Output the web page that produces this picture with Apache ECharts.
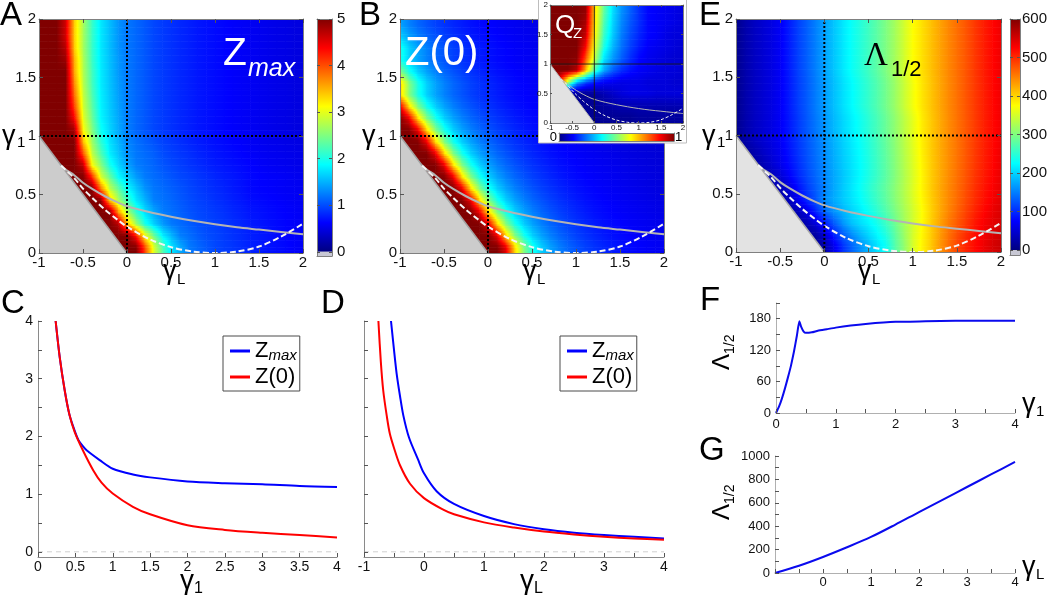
<!DOCTYPE html>
<html>
<head>
<meta charset="utf-8">
<title>Zmax, Z(0), QZ and Lambda maps</title>
<script src="https://cdn.jsdelivr.net/npm/echarts@6.0.0/dist/echarts.min.js"></script>
<style>
html,body{margin:0;padding:0;background:#ffffff;}
#chart{width:1050px;height:599px;}
</style>
</head>
<body>
<div id="chart"></div>
<script>
// ===================== DATA =====================
// heat-map grid: node positions along gamma_L and row centres along gamma_1
const gammaLNodes = [-1,-0.9,-0.8,-0.7,-0.6,-0.5,-0.4,-0.3,-0.2,-0.1,0,0.1,0.2,0.3,0.4,0.5,0.6,0.7,0.8,0.9,1,1.1,1.2,1.3,1.4,1.5,1.6,1.7,1.8,1.9,2];
const gamma1Rows = [0.05,0.15,0.25,0.35,0.45,0.55,0.65,0.75,0.85,0.95,1.05,1.15,1.25,1.35,1.45,1.55,1.65,1.75,1.85,1.95];

// Panel A: Zmax (rows bottom -> top, one value per gamma_L node)
const zmaxGrid = [
 [5,5,5,5,5,5,5,5,5,5,5,5,4.06,2.99,2.29,1.76,1.48,1.23,1.14,1.05,0.97,0.92,0.88,0.83,0.78,0.75,0.71,0.68,0.65,0.61,0.58],
 [5,5,5,5,5,5,5,5,5,5,5,4.3,3.13,2.43,1.82,1.53,1.25,1.17,1.08,1.0,0.96,0.91,0.86,0.82,0.77,0.74,0.71,0.67,0.64,0.61,0.58],
 [5,5,5,5,5,5,5,5,5,4.75,3.5,2.66,2.0,1.66,1.39,1.22,1.15,1.08,1.01,0.97,0.93,0.89,0.84,0.8,0.75,0.72,0.69,0.66,0.63,0.6,0.57],
 [5,5,5,5,5,5,5,5,5,3.66,2.75,2.13,1.72,1.46,1.24,1.17,1.1,1.03,0.98,0.94,0.9,0.86,0.81,0.77,0.72,0.7,0.67,0.65,0.62,0.6,0.57],
 [5,5,5,5,5,5,5,5,3.44,2.71,2.19,1.77,1.51,1.25,1.19,1.13,1.06,1.0,0.95,0.91,0.86,0.82,0.77,0.73,0.68,0.66,0.64,0.62,0.6,0.58,0.56],
 [5,5,5,5,5,5,5,3.81,2.84,2.36,1.88,1.61,1.35,1.21,1.15,1.09,1.03,0.97,0.92,0.87,0.83,0.79,0.74,0.7,0.65,0.63,0.62,0.6,0.58,0.57,0.55],
 [5,5,5,5,5,5,4.22,2.96,2.42,1.88,1.64,1.4,1.23,1.16,1.1,1.04,0.98,0.94,0.89,0.85,0.8,0.76,0.73,0.69,0.65,0.63,0.61,0.6,0.58,0.56,0.54],
 [5,5,5,5,5,4.69,3.13,2.56,1.99,1.68,1.44,1.24,1.18,1.12,1.04,0.98,0.93,0.88,0.84,0.79,0.75,0.72,0.69,0.66,0.63,0.6,0.58,0.56,0.55,0.53,0.51],
 [5,5,5,5,5,3.98,2.84,2.27,1.81,1.58,1.34,1.21,1.15,1.09,1.0,0.94,0.89,0.85,0.8,0.76,0.72,0.69,0.66,0.63,0.6,0.58,0.56,0.55,0.53,0.52,0.5],
 [5,5,5,5,5,3.47,2.67,2.1,1.74,1.52,1.29,1.18,1.1,1.03,0.95,0.9,0.85,0.8,0.76,0.72,0.69,0.66,0.63,0.61,0.58,0.56,0.54,0.53,0.51,0.5,0.48],
 [5,5,5,5,4.83,3.13,2.53,1.93,1.68,1.46,1.25,1.13,1.05,0.97,0.91,0.86,0.81,0.77,0.73,0.7,0.67,0.64,0.61,0.59,0.57,0.55,0.53,0.51,0.5,0.48,0.47],
 [5,5,5,5,4.38,3.0,2.41,1.85,1.64,1.44,1.24,1.13,1.05,0.97,0.91,0.86,0.81,0.77,0.73,0.7,0.67,0.64,0.61,0.59,0.57,0.55,0.53,0.51,0.5,0.48,0.47],
 [5,5,5,5,4.06,2.9,2.34,1.83,1.62,1.42,1.24,1.13,1.05,0.97,0.91,0.86,0.81,0.77,0.73,0.7,0.67,0.64,0.61,0.59,0.57,0.55,0.53,0.51,0.5,0.48,0.47],
 [5,5,5,5,3.85,2.84,2.27,1.81,1.6,1.4,1.23,1.13,1.05,0.97,0.91,0.86,0.81,0.77,0.73,0.7,0.67,0.64,0.61,0.59,0.57,0.55,0.53,0.51,0.5,0.48,0.47],
 [5,5,5,5,3.7,2.78,2.21,1.79,1.59,1.39,1.23,1.13,1.05,0.97,0.91,0.86,0.81,0.77,0.73,0.7,0.67,0.64,0.61,0.59,0.57,0.55,0.53,0.51,0.5,0.48,0.47],
 [5,5,5,5,3.56,2.75,2.2,1.79,1.58,1.37,1.22,1.13,1.05,0.97,0.91,0.86,0.81,0.77,0.73,0.7,0.67,0.64,0.61,0.59,0.57,0.55,0.53,0.51,0.5,0.48,0.47],
 [5,5,5,4.87,3.53,2.73,2.16,1.78,1.57,1.37,1.22,1.13,1.05,0.97,0.91,0.86,0.81,0.77,0.73,0.7,0.67,0.64,0.61,0.59,0.57,0.55,0.53,0.51,0.5,0.48,0.47],
 [5,5,5,4.73,3.39,2.69,2.15,1.77,1.56,1.35,1.21,1.13,1.05,0.97,0.91,0.86,0.81,0.77,0.73,0.7,0.67,0.64,0.61,0.59,0.57,0.55,0.53,0.51,0.5,0.48,0.47],
 [5,5,5,4.6,3.37,2.69,2.15,1.77,1.56,1.35,1.21,1.13,1.05,0.97,0.91,0.86,0.81,0.77,0.73,0.7,0.67,0.64,0.61,0.59,0.57,0.55,0.53,0.51,0.5,0.48,0.47],
 [5,5,5,4.6,3.37,2.69,2.15,1.77,1.56,1.35,1.21,1.13,1.05,0.97,0.91,0.86,0.81,0.77,0.73,0.7,0.67,0.64,0.61,0.59,0.57,0.55,0.53,0.51,0.5,0.48,0.47]
];

// Panel B: Z(0)
const z0Grid = [
 [5,5,5,5,5,5,5,5,5,5,5,5,4.5,3.35,2.55,2.0,1.66,1.43,1.26,1.13,1.03,0.94,0.87,0.805,0.75,0.7,0.66,0.63,0.6,0.58,0.56],
 [5,5,5,5,5,5,5,5,5,5,5,4.5,3.35,2.55,2.0,1.66,1.43,1.26,1.13,1.03,0.94,0.87,0.805,0.75,0.7,0.66,0.63,0.6,0.58,0.56,0.54],
 [5,5,5,5,5,5,5,5,5,5,4.5,3.35,2.55,2.0,1.66,1.43,1.26,1.13,1.03,0.94,0.87,0.805,0.75,0.7,0.66,0.63,0.6,0.58,0.56,0.54,0.52],
 [5,5,5,5,5,5,5,5,5,4.5,3.35,2.55,2.0,1.66,1.43,1.26,1.13,1.03,0.94,0.87,0.805,0.75,0.7,0.66,0.63,0.6,0.58,0.56,0.54,0.52,0.5],
 [5,5,5,5,5,5,5,5,4.5,3.35,2.55,2.0,1.66,1.43,1.26,1.13,1.03,0.94,0.87,0.805,0.75,0.7,0.66,0.63,0.6,0.58,0.56,0.54,0.52,0.5,0.48],
 [5,5,5,5,5,5,5,4.5,3.35,2.55,2.0,1.66,1.43,1.26,1.13,1.03,0.94,0.87,0.805,0.75,0.7,0.66,0.63,0.6,0.58,0.56,0.54,0.52,0.5,0.48,0.465],
 [5,5,5,5,5,5,4.5,3.35,2.55,2.0,1.66,1.43,1.26,1.13,1.03,0.94,0.87,0.805,0.75,0.7,0.66,0.63,0.6,0.58,0.56,0.54,0.52,0.5,0.48,0.465,0.45],
 [5,5,5,5,5,4.5,3.35,2.55,2.0,1.66,1.43,1.26,1.13,1.03,0.94,0.87,0.805,0.75,0.7,0.66,0.63,0.6,0.58,0.56,0.54,0.52,0.5,0.48,0.465,0.45,0.435],
 [5,5,5,5,4.5,3.35,2.55,2.0,1.66,1.43,1.26,1.13,1.03,0.94,0.87,0.805,0.75,0.7,0.66,0.63,0.6,0.58,0.56,0.54,0.52,0.5,0.48,0.465,0.45,0.435,0.42],
 [5,5,5,4.5,3.35,2.55,2.0,1.66,1.43,1.26,1.13,1.03,0.94,0.87,0.805,0.75,0.7,0.66,0.63,0.6,0.58,0.56,0.54,0.52,0.5,0.48,0.465,0.45,0.435,0.42,0.41],
 [5,5,4.5,3.35,2.55,2.0,1.66,1.43,1.26,1.13,1.03,0.94,0.87,0.805,0.75,0.7,0.66,0.63,0.6,0.58,0.56,0.54,0.52,0.5,0.48,0.465,0.45,0.435,0.42,0.41,0.4],
 [5,4.5,3.35,2.55,2.0,1.66,1.43,1.26,1.13,1.03,0.94,0.87,0.805,0.75,0.7,0.66,0.63,0.6,0.58,0.56,0.54,0.52,0.5,0.48,0.465,0.45,0.435,0.42,0.41,0.4,0.39],
 [4.5,3.35,2.55,2.0,1.66,1.43,1.26,1.13,1.03,0.94,0.87,0.805,0.75,0.7,0.66,0.63,0.6,0.58,0.56,0.54,0.52,0.5,0.48,0.465,0.45,0.435,0.42,0.41,0.4,0.39,0.38],
 [3.35,2.55,2.0,1.66,1.43,1.26,1.13,1.03,0.94,0.87,0.805,0.75,0.7,0.66,0.63,0.6,0.58,0.56,0.54,0.52,0.5,0.48,0.465,0.45,0.435,0.42,0.41,0.4,0.39,0.38,0.37],
 [3.35,2.55,2.0,1.66,1.43,1.26,1.13,1.03,0.94,0.87,0.805,0.75,0.7,0.66,0.63,0.6,0.58,0.56,0.54,0.52,0.5,0.48,0.465,0.45,0.435,0.42,0.41,0.4,0.39,0.38,0.37],
 [2.55,2.0,1.66,1.43,1.26,1.13,1.03,0.94,0.87,0.805,0.75,0.7,0.66,0.63,0.6,0.58,0.56,0.54,0.52,0.5,0.48,0.465,0.45,0.435,0.42,0.41,0.4,0.39,0.38,0.37,0.36],
 [2.0,1.66,1.43,1.26,1.13,1.03,0.94,0.87,0.805,0.75,0.7,0.66,0.63,0.6,0.58,0.56,0.54,0.52,0.5,0.48,0.465,0.45,0.435,0.42,0.41,0.4,0.39,0.38,0.37,0.36,0.35],
 [2.0,1.66,1.43,1.26,1.13,1.03,0.94,0.87,0.805,0.75,0.7,0.66,0.63,0.6,0.58,0.56,0.54,0.52,0.5,0.48,0.465,0.45,0.435,0.42,0.41,0.4,0.39,0.38,0.37,0.36,0.35],
 [1.66,1.43,1.26,1.13,1.03,0.94,0.87,0.805,0.75,0.7,0.66,0.63,0.6,0.58,0.56,0.54,0.52,0.5,0.48,0.465,0.45,0.435,0.42,0.41,0.4,0.39,0.38,0.37,0.36,0.35,0.34],
 [1.43,1.26,1.13,1.03,0.94,0.87,0.805,0.75,0.7,0.66,0.63,0.6,0.58,0.56,0.54,0.52,0.5,0.48,0.465,0.45,0.435,0.42,0.41,0.4,0.39,0.38,0.37,0.36,0.35,0.34,0.335]
];

// Panel E: Lambda_1/2
const lambdaGrid = [
 [10,10,10,10,10,10,10,10,10,10,25,60,100,130,158,185,210,232,275,310,350,380,405,435,460,485,505,520,535,548,558],
 [15,15,15,15,15,15,15,15,15,20,50,90,125,155,180,202,222,245,280,315,350,378,404,432,457,480,500,518,532,545,555],
 [20,20,20,20,20,20,20,20,30,55,90,125,160,188,205,220,238,262,290,320,348,375,402,428,452,472,492,512,528,540,550],
 [20,20,20,20,20,20,20,32,60,95,135,160,180,198,214,232,252,274,298,323,348,374,400,424,446,466,486,505,522,536,548],
 [20,20,20,20,20,20,35,68,98,124,158,175,192,208,224,243,262,282,305,328,353,378,402,424,444,462,481,499,516,530,543],
 [20,20,20,20,20,30,55,82,108,130,152,172,192,210,228,248,266,285,307,330,355,380,404,425,444,461,479,497,513,527,540],
 [20,20,20,20,32,50,72,95,116,135,154,172,190,207,224,242,260,280,303,328,353,379,403,423,442,459,476,494,510,524,538],
 [20,20,20,30,46,62,80,100,120,138,156,174,192,208,224,242,261,281,304,329,354,380,403,423,441,458,475,492,508,522,537],
 [15,15,25,40,53,66,84,104,122,140,158,176,194,210,226,244,263,283,306,331,356,382,404,423,441,457,474,491,507,521,536],
 [8,22,36,47,57,69,87,106,124,142,160,178,196,212,228,246,265,285,308,333,358,383,404,423,441,457,474,490,506,520,534],
 [8,25,38,48,58,70,88,108,126,145,163,182,200,216,232,250,268,288,310,335,360,385,405,424,442,458,474,490,506,520,533],
 [8,25,38,48,58,70,88,108,126,145,163,182,200,216,232,250,268,288,310,335,360,385,405,424,442,458,474,490,506,520,533],
 [8,25,38,48,58,70,89,110,128,148,167,186,205,222,239,256,274,294,316,342,368,389,408,426,444,459,475,491,507,521,534],
 [8,25,38,48,58,70,89,110,128,148,167,186,205,222,239,256,274,294,316,342,368,389,408,426,444,459,475,491,507,521,534],
 [8,25,38,48,58,70,89,110,128,148,167,186,205,222,239,256,274,294,316,342,368,389,408,426,444,459,475,491,507,521,534],
 [8,25,38,48,58,70,90,112,130,150,170,190,210,228,245,262,280,300,322,348,375,392,410,428,445,460,475,492,508,522,535],
 [8,25,38,48,58,70,90,112,130,150,170,190,210,228,245,262,280,300,322,348,375,392,410,428,445,460,475,492,508,522,535],
 [8,25,38,48,58,70,90,112,130,150,170,190,210,228,245,262,280,300,322,348,375,392,410,428,445,460,475,492,508,522,535],
 [8,25,38,48,58,70,90,112,130,150,170,190,210,228,245,262,280,300,322,348,375,392,410,428,445,460,475,492,508,522,535],
 [8,25,38,48,58,70,90,112,130,150,170,190,210,228,245,262,280,300,322,348,375,392,410,428,445,460,475,492,508,522,535]
];

// Inset: Q_Z (coarser grid)
const qzGammaLNodes = [-1,-0.8,-0.6,-0.4,-0.2,0,0.2,0.4,0.6,0.8,1,1.2,1.4,1.6,1.8,2];
const qzGamma1Rows = [0.1,0.3,0.5,0.7,0.9,1.1,1.3,1.5,1.7,1.9];
const qzGrid = [
 [0.02,0.02,0.02,0.02,0.02,0.02,0.02,0.02,0.02,0.02,0.03,0.03,0.03,0.03,0.03,0.03],
 [0.02,0.02,0.02,0.02,0.02,0.02,0.03,0.04,0.05,0.05,0.05,0.05,0.05,0.05,0.05,0.05],
 [0.02,0.02,0.02,0.02,0.02,0.03,0.05,0.07,0.09,0.1,0.1,0.1,0.09,0.09,0.09,0.09],
 [0.9,0.9,0.55,0.3,0.2,0.15,0.12,0.11,0.1,0.1,0.1,0.09,0.09,0.09,0.08,0.08],
 [1,1,1,0.95,0.7,0.45,0.3,0.22,0.17,0.14,0.12,0.11,0.1,0.09,0.09,0.08],
 [1,1,1,0.99,0.8,0.57,0.36,0.28,0.22,0.17,0.13,0.11,0.1,0.09,0.08,0.08],
 [1,1,1,1,0.88,0.61,0.41,0.31,0.24,0.19,0.15,0.12,0.11,0.1,0.09,0.08],
 [1,1,1,1,0.93,0.64,0.44,0.33,0.25,0.2,0.16,0.13,0.12,0.1,0.09,0.09],
 [1,1,1,1,0.96,0.66,0.46,0.34,0.26,0.21,0.17,0.13,0.12,0.11,0.1,0.09],
 [1,1,1,1,0.98,0.67,0.48,0.35,0.27,0.22,0.17,0.13,0.12,0.11,0.1,0.09]
];

// forbidden (grey) region and the two overlay curves
const forbiddenRegion = [[-1,1],[0,0],[-1,0]];
const grayCurve = [[-0.75,0.75],[-0.7,0.715],[-0.6,0.665],[-0.5,0.6],[-0.4,0.55],[-0.25,0.485],[-0.1,0.43],[0,0.4],[0.25,0.35],[0.5,0.31],[0.75,0.275],[1,0.245],[1.25,0.22],[1.5,0.2],[1.75,0.18],[2,0.16]];
const whiteDashedCurve = [[-0.75,0.745],[-0.6,0.64],[-0.5,0.55],[-0.4,0.475],[-0.25,0.37],[-0.1,0.28],[0,0.225],[0.25,0.12],[0.5,0.05],[0.75,0.012],[1,0],[1.25,0.012],[1.5,0.055],[1.75,0.14],[2,0.25]];

// Panel C (vs gamma_1) and D (vs gamma_L)
const zmaxVsGamma1 = [[0.236,4.0],[0.29,3.38],[0.357,2.8],[0.42,2.38],[0.49,2.1],[0.54,1.94],[0.6,1.83],[0.65,1.76],[0.825,1.59],[1.0,1.44],[1.27,1.34],[1.5,1.29],[2.0,1.22],[2.5,1.19],[3.0,1.17],[3.5,1.14],[4.0,1.125]];
const z0VsGamma1 = [[0.236,4.0],[0.29,3.38],[0.357,2.8],[0.42,2.38],[0.49,2.08],[0.6,1.76],[0.74,1.41],[0.85,1.2],[1.0,1.01],[1.27,0.78],[1.5,0.65],[2.0,0.46],[2.5,0.38],[3.0,0.33],[3.5,0.29],[4.0,0.25]];
const zmaxVsGammaL = [[-0.55,4.0],[-0.5,3.5],[-0.456,3.09],[-0.4,2.7],[-0.344,2.36],[-0.25,1.98],[-0.1,1.6],[0.0,1.36],[0.21,1.05],[0.5,0.83],[1.0,0.62],[1.5,0.48],[2.0,0.39],[2.5,0.33],[3.0,0.29],[3.5,0.26],[4.0,0.23]];
const z0VsGammaL = [[-0.76,4.0],[-0.72,3.3],[-0.68,2.8],[-0.62,2.35],[-0.57,2.05],[-0.5,1.8],[-0.4,1.5],[-0.233,1.18],[0.0,0.93],[0.32,0.73],[0.5,0.65],[1.0,0.51],[1.5,0.42],[2.0,0.35],[2.5,0.3],[3.0,0.26],[3.5,0.23],[4.0,0.21]];

// Panel F and G
const lambdaVsGamma1 = [[0,0],[0.05,12],[0.1,28],[0.15,47],[0.2,68],[0.25,90],[0.3,117],[0.35,148],[0.39,175],[0.42,165],[0.46,156],[0.5,153],[0.6,154],[0.7,157],[0.85,160],[1.0,163],[1.25,167],[1.5,170],[2.0,174],[2.5,175],[3.0,176],[3.5,176],[4.0,176]];
const lambdaVsGammaL = [[-1,0],[-0.5,62],[0,137],[0.5,220],[1,308],[1.5,412],[2,521],[2.5,628],[3,735],[3.5,842],[4,949]];

// tick values / labels
const heatXTicks = [-1,-0.5,0,0.5,1,1.5,2];
const heatYTicks = [0,0.5,1,1.5,2];
const zColorbarTicks = [0,1,2,3,4,5];
const lambdaColorbarTicks = [0,100,200,300,400,500,600];
const cXTicks = [0,0.5,1,1.5,2,2.5,3,3.5,4];
const zYTicks = [0,0.5,1,1.5,2,2.5,3,3.5,4];
const zYLabels = [0,1,2,3,4];
const dXTicks = [-1,-0.5,0,0.5,1,1.5,2,2.5,3,3.5,4];
const dXLabels = [-1,0,1,2,3,4];
const fXLabels = [0,1,2,3,4];
const fYTicks = [0,30,60,90,120,150,180,210];
const fYLabels = [0,60,120,180];
const gXLabels = [0,1,2,3,4];
const gYTicks = [0,100,200,300,400,500,600,700,800,900,1000];
const gYLabels = [0,200,400,600,800,1000];

// ===================== CHART =====================
const FONT = '"Liberation Sans", Arial, Helvetica, sans-serif';
const SERIF = '"Liberation Serif", "Times New Roman", serif';
const chart = echarts.init(document.getElementById('chart'), null, {renderer:'canvas', width:1050, height:599});
const option = {animation:false, backgroundColor:'#ffffff', textStyle:{fontFamily:FONT},
  grid:[], xAxis:[], yAxis:[], series:[], legend:[], graphic:[]};
const S = s => option.series.push(s);

function fmt(v){ return String(Math.round(v*1000)/1000); }
function addGrid(l,t,w,h){ option.grid.push({left:l, top:t, width:w, height:h}); return option.grid.length-1; }
function addX(c){ option.xAxis.push(c); return option.xAxis.length-1; }
function addY(c){ option.yAxis.push(c); return option.yAxis.length-1; }
function axis(gi,pos,min,max,o){
  o = o || {};
  const col = o.color || '#808080';
  return {gridIndex:gi, type:'value', position:pos, min:min, max:max, z:(o.z==null?10:o.z),
    splitLine:{show:false}, axisPointer:{show:false},
    axisLine:{show:true, onZero:false, lineStyle:{color:col, width:1}},
    axisTick:{show:!!o.ticks, inside:true, length:o.tickLen||4, customValues:o.ticks||[], lineStyle:{color:o.tickColor||'#555', width:1}},
    axisLabel:{show:!!o.labels, customValues:o.labels||[], formatter:fmt, fontSize:o.fs||15, color:'#111', fontFamily:FONT, margin:(o.margin==null?4:o.margin)}
  };
}

function clamp01(t){ return Math.max(0, Math.min(1, t)); }
function jet(t){
  t = clamp01(t);
  const c = x => Math.round(255*clamp01(x));
  return 'rgb('+c(1.5-Math.abs(4*t-3))+','+c(1.5-Math.abs(4*t-2))+','+c(1.5-Math.abs(4*t-1))+')';
}
const JET_BREAKS = [0.125,0.375,0.625,0.875];
function jetStops(t0,t1){
  t0 = clamp01(t0); t1 = clamp01(t1);
  const s = [{offset:0, color:jet(t0)}];
  if (t1 !== t0) {
    JET_BREAKS.map(b => (b-t0)/(t1-t0)).filter(o => o>0 && o<1).sort((a,b)=>a-b)
      .forEach(o => s.push({offset:o, color:jet(t0+(t1-t0)*o)}));
  }
  s.push({offset:1, color:jet(t1)});
  return s;
}
// one item per patch between neighbouring nodes: [xL,xR,yB,yT, vLB,vRB,vLT,vRT]
// (rows extended to the plot edges with the edge row's own values)
function patchData(nodes, rows, grid, yMin, yMax){
  const ys = [yMin].concat(rows, [yMax]);
  const vs = [grid[0]].concat(grid, [grid[grid.length-1]]);
  const out = [];
  for (let k=0;k<ys.length-1;k++) {
    for (let i=0;i<nodes.length-1;i++) {
      out.push([nodes[i],nodes[i+1],ys[k],ys[k+1],vs[k][i],vs[k][i+1],vs[k+1][i],vs[k+1][i+1]]);
    }
  }
  return out;
}
function patchSeries(xi,yi,data,vmax,z){
  return {type:'custom', xAxisIndex:xi, yAxisIndex:yi, data:data, clip:true, silent:true, z:z, progressive:0,
    encode:{x:[0,1], y:[2,3]},
    renderItem:function(p,api){
      const lb=api.value(4), rb=api.value(5), lt=api.value(6), rt=api.value(7);
      if ([lb,rb,lt,rt].some(isNaN)) return null;
      const a = api.coord([api.value(0), api.value(3)]), b = api.coord([api.value(1), api.value(2)]);
      const W = b[0]-a[0], H = b[1]-a[1];
      const K = Math.max(1, Math.round(H/2.5));
      const kids = [];
      for (let s=0;s<K;s++) {
        const f = 1 - (s+0.5)/K;           // fraction from bottom
        const vl = lb + (lt-lb)*f, vr = rb + (rt-rb)*f;
        kids.push({type:'rect', shape:{x:a[0], y:a[1]+H*s/K, width:W+0.6, height:H/K+0.6},
          style:{fill:new echarts.graphic.LinearGradient(0,0,1,0,jetStops(vl/vmax, vr/vmax))}});
      }
      return {type:'group', children:kids};
    }};
}
function polySeries(xi,yi,pts,fill,z){
  return {type:'custom', xAxisIndex:xi, yAxisIndex:yi, data:[pts[0]], encode:{x:0,y:1}, clip:true, silent:true, z:z,
    renderItem:function(p,api){ return {type:'polygon', shape:{points:pts.map(q=>api.coord(q))}, style:{fill:fill}}; }};
}
function lineSeries(xi,yi,data,color,width,type,z,name,smooth){
  const s = {type:'line', xAxisIndex:xi, yAxisIndex:yi, data:data, symbol:'none', showSymbol:false,
    smooth:smooth||false, silent:true, z:z, clip:true,
    lineStyle:{color:color, width:width, type:type||'solid', cap:'butt', join:'round'}, itemStyle:{color:color}, emphasis:{disabled:true}};
  if (name) s.name = name;
  return s;
}

function heatPanel(l,t,w,h,o){
  const gi = addGrid(l,t,w,h), zb = o.zb||0, fs = o.fs||15, tl = o.tickLen||4;
  const xi = addX(axis(gi,'bottom',-1,2,{ticks:heatXTicks, labels:heatXTicks, fs:fs, margin:o.xMargin, z:zb+10, tickLen:tl}));
  addX(axis(gi,'top',-1,2,{ticks:heatXTicks, z:zb+10, tickLen:tl}));
  const yi = addY(axis(gi,'left',0,2,{ticks:heatYTicks, labels:heatYTicks, fs:fs, margin:o.yMargin, z:zb+10, tickLen:tl}));
  addY(axis(gi,'right',0,2,{ticks:heatYTicks, z:zb+10, tickLen:tl}));
  S(patchSeries(xi,yi,patchData(o.nodes,o.rows,o.grid,0,2),o.vmax,zb+1));
  S(polySeries(xi,yi,forbiddenRegion,o.gray,zb+2));
  S(lineSeries(xi,yi,[forbiddenRegion[0],forbiddenRegion[1]],o.edge,o.lw||1.5,'solid',zb+3));
  S(lineSeries(xi,yi,grayCurve,'#b4b4b4',o.lw||2,'solid',zb+4,null,0.3));
  S(lineSeries(xi,yi,whiteDashedCurve,'#f4f4f4',o.lw||2,o.dash||[6,3],zb+4,null,0.3));
  S(lineSeries(xi,yi,[[0,0],[0,2]],o.refColor||'#000',o.refW||2,o.refType||[2,2],zb+5));
  S(lineSeries(xi,yi,[[-1,1],[2,1]],o.refColor||'#000',o.refW||2,o.refType||[2,2],zb+5));
}

function vColorbar(l,t,w,h,min,max,range,ticks,gray,o){
  const gi = addGrid(l,t,w,h);
  const xi = addX(axis(gi,'bottom',0,1,{}));
  addX(axis(gi,'top',0,1,{}));
  const yi = addY(axis(gi,'right',min,max,{ticks:ticks, labels:ticks, fs:o.fs||15, margin:o.margin, tickLen:3}));
  addY(axis(gi,'left',min,max,{ticks:ticks, tickLen:3}));
  S({type:'custom', xAxisIndex:xi, yAxisIndex:yi, data:[[0,1,range[0],range[1]],[0,1,min,range[0]]], encode:{x:[0,1],y:[2,3]}, z:1, silent:true,
    renderItem:function(p,api){
      const a = api.coord([0, api.value(3)]), b = api.coord([1, api.value(2)]);
      const fill = p.dataIndex === 0 ? new echarts.graphic.LinearGradient(0,0,0,1,jetStops(1,0)) : gray;
      return {type:'rect', shape:{x:a[0], y:a[1], width:b[0]-a[0], height:b[1]-a[1]}, style:{fill:fill}};
    }});
}
function hColorbar(l,t,w,h,range,zb){
  const gi = addGrid(l,t,w,h);
  const xi = addX(axis(gi,'bottom',range[0],range[1],{z:zb+10}));
  addX(axis(gi,'top',range[0],range[1],{z:zb+10}));
  const yi = addY(axis(gi,'left',0,1,{z:zb+10}));
  addY(axis(gi,'right',0,1,{z:zb+10}));
  S({type:'custom', xAxisIndex:xi, yAxisIndex:yi, data:[[range[0],range[1],0,1]], encode:{x:[0,1],y:[2,3]}, z:zb+1, silent:true,
    renderItem:function(p,api){
      const a = api.coord([api.value(0),1]), b = api.coord([api.value(1),0]);
      return {type:'rect', shape:{x:a[0], y:a[1], width:b[0]-a[0], height:b[1]-a[1]},
        style:{fill:new echarts.graphic.LinearGradient(0,0,1,0,jetStops(0,1))}};
    }});
}
function plotPanel(l,t,w,h,o){
  const gi = addGrid(l,t,w,h);
  const xi = addX(axis(gi,'bottom',o.xr[0],o.xr[1],{ticks:o.xt, labels:o.xl, fs:o.fs, color:o.col, margin:o.xm, z:5}));
  const yi = addY(axis(gi,'left',o.yr[0],o.yr[1],{ticks:o.yt, labels:o.yl, fs:o.fs, color:o.col, margin:o.ym, z:5}));
  return [xi,yi];
}

// ---- A: Zmax map + colour bar
heatPanel(39,19,264,234,{nodes:gammaLNodes, rows:gamma1Rows, grid:zmaxGrid, vmax:5, gray:'#cccccc', edge:'#a3a3a3', xMargin:2, yMargin:3});
vColorbar(317,19,15,237,-0.09,5,[0,5],zColorbarTicks,'#c8c8d4',{margin:5, fs:15});
// ---- B: Z(0) map
heatPanel(400,19,264,234,{nodes:gammaLNodes, rows:gamma1Rows, grid:z0Grid, vmax:5, gray:'#cccccc', edge:'#a3a3a3', xMargin:2, yMargin:3});
// ---- E: Lambda map + colour bar
heatPanel(736,19,265,233,{nodes:gammaLNodes, rows:gamma1Rows, grid:lambdaGrid, vmax:600, gray:'#e3e3e3', edge:'#ababab', xMargin:2, yMargin:3});
vColorbar(1010,19,12,236,-13,600,[0,600],lambdaColorbarTicks,'#c8c8d4',{margin:2, fs:15});
// ---- inset Q_Z
option.graphic.push({type:'rect', z:20, silent:true, shape:{x:538.5, y:-1, width:148, height:144}, style:{fill:'#ffffff', stroke:'#bdbdbd', lineWidth:1}});
heatPanel(550,5,133,118,{nodes:qzGammaLNodes, rows:qzGamma1Rows, grid:qzGrid, vmax:1, gray:'#e2e2e2', edge:'#b5b5b5', zb:21, fs:8, tickLen:2, lw:1, refColor:'#1a1a1a', refW:0.9, refType:'solid', dash:[3,2], xMargin:1, yMargin:2});
hColorbar(559,133,115,8,[0,1],21);

// ---- C
let ax = plotPanel(38,321,299,236,{xr:[0,4], yr:[-0.09,4], xt:cXTicks, xl:cXTicks, yt:zYTicks, yl:zYLabels, fs:14, col:'#8a8a8a', xm:3, ym:5});
S(lineSeries(ax[0],ax[1],[[0,0],[4,0]],'#d0d0d0',1,[5,4],2));
S(lineSeries(ax[0],ax[1],zmaxVsGamma1,'#0000ff',2,'solid',3,'Zmax',0.3));
S(lineSeries(ax[0],ax[1],z0VsGamma1,'#ff0000',2,'solid',4,'Z(0)',0.3));
// ---- D
ax = plotPanel(364,321,300,236,{xr:[-1,4], yr:[-0.09,4], xt:dXTicks, xl:dXLabels, yt:zYTicks, yl:null, fs:14, col:'#8a8a8a', xm:3, ym:5});
S(lineSeries(ax[0],ax[1],[[-1,0],[4,0]],'#d0d0d0',1,[5,4],2));
S(lineSeries(ax[0],ax[1],zmaxVsGammaL,'#0000ff',2,'solid',3,'Zmax',0.3));
S(lineSeries(ax[0],ax[1],z0VsGammaL,'#ff0000',2,'solid',4,'Z(0)',0.3));
// ---- F
ax = plotPanel(776,303,239,110,{xr:[0,4], yr:[0,210], xt:cXTicks, xl:fXLabels, yt:fYTicks, yl:fYLabels, fs:13, col:'#b0b0b0', xm:5, ym:5});
S(lineSeries(ax[0],ax[1],lambdaVsGamma1,'#0a0aee',2,'solid',3,null,0.15));
// ---- G
ax = plotPanel(775,456,240,117,{xr:[-1,4], yr:[0,1000], xt:dXTicks, xl:gXLabels, yt:gYTicks, yl:gYLabels, fs:13, col:'#b0b0b0', xm:3, ym:5});
S(lineSeries(ax[0],ax[1],lambdaVsGammaL,'#0a0aee',2,'solid',3,null,0.3));

// ---- legends (C and D)
function legendAt(l,t){
  return {left:l, top:t, orient:'vertical', data:['Zmax','Z(0)'], icon:'rect', itemWidth:20, itemHeight:3, itemGap:2,
    padding:[3,3,2,7], backgroundColor:'#ffffff', borderColor:'#4a4a4a', borderWidth:1, borderRadius:0, selectedMode:false,
    formatter:function(n){ return n === 'Zmax' ? '{z|Z}{s|max}' : '{z|Z(0)}'; },
    textStyle:{color:'#000', fontFamily:FONT, fontSize:22, lineHeight:24,
      rich:{z:{fontSize:22, lineHeight:24, fontFamily:FONT, color:'#000'},
            s:{fontSize:15, fontStyle:'italic', lineHeight:12, verticalAlign:'bottom', fontFamily:FONT, color:'#000'}}}};
}
option.legend.push(legendAt(223,336));
option.legend.push(legendAt(560,336));

// ---- texts
function T(x, baseline, text, size, o){
  o = o || {};
  return {type:'text', x:x, y:baseline - 0.35*size, z:100, silent:true,
    style:{text:text, fill:o.fill||'#000', font:(o.italic?'italic ':'')+size+'px '+(o.family||FONT), align:o.align||'left', verticalAlign:'middle'}};
}
const G = option.graphic;
// panel letters
G.push(T(0,27,'A',33)); G.push(T(359,27,'B',33)); G.push(T(699,27,'E',33));
G.push(T(1,315,'C',33)); G.push(T(321,315,'D',33)); G.push(T(700,312,'F',33)); G.push(T(699,462,'G',33));
// axis titles
[[2,146,'1'],[362,146,'1'],[702,146,'1']].forEach(a => { G.push(T(a[0],a[1],'γ',27)); G.push(T(a[0]+15,a[1]+2,a[2],15)); });
[[163,281],[523,281],[858,281]].forEach(a => { G.push(T(a[0],a[1],'γ',27)); G.push(T(a[0]+14,a[1]+4,'L',15)); });
G.push(T(180,591,'γ',28)); G.push(T(194,594,'1',16));
G.push(T(520,591,'γ',28)); G.push(T(534,594,'L',16));
G.push(T(1022,414,'γ',27)); G.push(T(1036,417,'1',15));
G.push(T(1022,577,'γ',27)); G.push(T(1036,580,'L',15));
// big labels in the maps
G.push(T(223,68,'Z',39,{fill:'#fff'})); G.push(T(248,78,'max',25,{fill:'#fff', italic:true}));
G.push(T(405,68,'Z(0)',40,{fill:'#fff'}));
G.push(T(864,68,'Λ',33,{family:SERIF})); G.push(T(891,78,'1/2',22));
G.push(T(555,35,'Q',26,{fill:'#fff'})); G.push(T(573,39,'Z',15,{fill:'#fff'}));
// inset colour-bar end labels
G.push(T(557,141.5,'0',13,{align:'right'})); G.push(T(675,141.5,'1',13));
// rotated Lambda_1/2 y-axis titles (F, G)
[[731,370],[731,520]].forEach(p => {
  G.push({type:'group', x:p[0], y:p[1], rotation:Math.PI/2, z:100, children:[T(0,0,'Λ',24), T(16,4,'1/2',14)]});
});

chart.setOption(option);
</script>
</body>
</html>
